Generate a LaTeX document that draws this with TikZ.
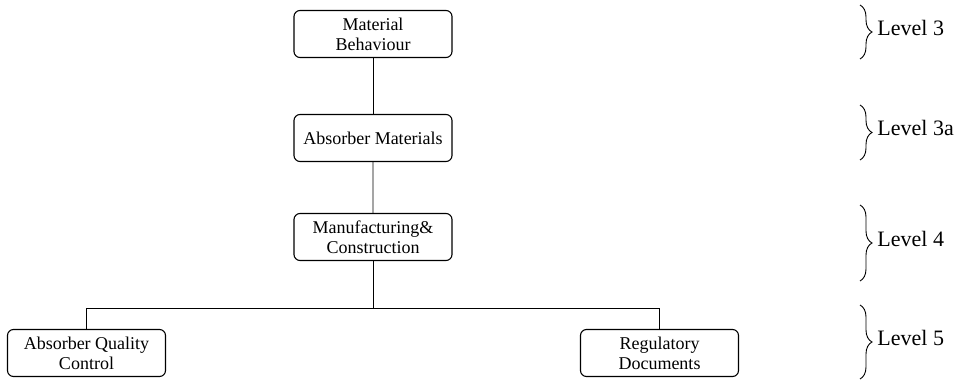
\documentclass[tikz,border=0pt]{standalone}
\usepackage{fontspec}
\setmainfont{Liberation Serif}
\usetikzlibrary{decorations.pathreplacing}

\begin{document}
\begin{tikzpicture}[x=1pt,y=1pt,
                    level 1/.style={level distance=104pt},
                    level 2/.style={level distance=99pt},
                    level 3/.style={level distance=116pt,sibling distance=573pt,
                      edge from parent path={(\tikzparentnode.south) -- ++(0,-47pt) -| (\tikzchildnode.north)}},
                    edge from parent/.style={draw,line width=0.9pt},
                    main node/.style={rectangle,rounded corners=6pt,draw,line width=1.1pt,
                      minimum width=158pt,minimum height=47pt,align=center,inner sep=2pt,
                      font=\fontsize{18}{20}\selectfont},
                    level brace/.style={decorate,decoration={brace,amplitude=12pt},line width=0.9pt},
                    level label/.style={anchor=base west,inner sep=0pt,xshift=17pt,yshift=-3pt,
                      font=\fontsize{22}{24}\selectfont}]

    \useasboundingbox (0,0) rectangle (962,-380);

    % Define vertices
    \node[main node] (MB) at (373,-34) {Material\\Behaviour}
        child {node[main node] (AM) {Absorber Materials}
        child {node[main node] (MC) {Manufacturing\&\\Construction}
            child {node[main node] (AQC) {Absorber Quality\\Control}}
            child {node[main node] (RD) {Regulatory\\Documents}}
        }
        };

    % Level braces
    \draw[level brace] (860,-5) -- (860,-59) node[level label,midway] (L3) {Level 3};
    \draw[level brace] (860,-105) -- (860,-160) node[level label,midway] (L3a) {Level 3a};
    \draw[level brace] (860,-205) -- (860,-281) node[level label,midway] (L4) {Level 4};
    \draw[level brace] (860,-305) -- (860,-379) node[level label,midway] (L5) {Level 5};

\end{tikzpicture}
\end{document}
